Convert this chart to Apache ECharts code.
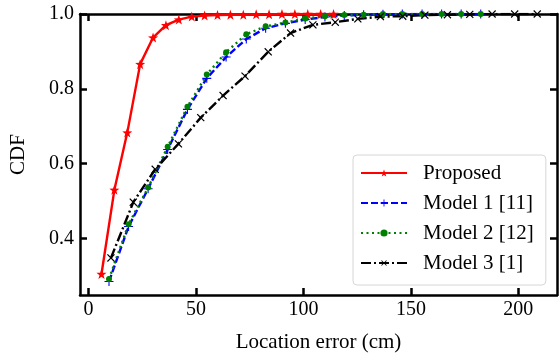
<!DOCTYPE html>
<html>
<head>
<meta charset="utf-8">
<script src="https://cdn.jsdelivr.net/npm/echarts@6/dist/echarts.min.js"></script>
<style>
  html, body { margin: 0; padding: 0; background: #fff; }
  #chart { width: 559px; height: 358px; }
</style>
</head>
<body>
<div id="chart"></div>
<script>
/* ---------- data ---------- */
const xTicks = [0, 50, 100, 150, 200];
const yTicks = [0.4, 0.6, 0.8, 1.0];

const proposedX = [6, 12, 18, 24, 30, 36, 42, 48, 54, 60, 66, 72, 78, 84, 90, 96, 102, 108, 114];
const proposedY = [0.305, 0.53, 0.683, 0.866, 0.937, 0.97, 0.985, 0.993, 0.996, 0.997, 0.998, 0.998, 0.999, 0.999, 1, 1, 1, 1, 1];

const model12X = [9.5, 18.6, 27.7, 36.8, 46, 55, 64, 73.4, 82.4, 91.6, 100.8, 110, 119, 128, 137, 146, 155.2, 164.3, 173.4, 182.5];
const model1Y = [0.285, 0.432, 0.533, 0.638, 0.745, 0.828, 0.885, 0.933, 0.962, 0.975, 0.985, 0.992, 0.996, 0.998, 0.999, 1, 1, 1, 1, 1];
const model2Y = [0.292, 0.438, 0.536, 0.645, 0.752, 0.838, 0.898, 0.946, 0.967, 0.977, 0.988, 0.994, 0.997, 0.998, 1, 1, 1, 1, 1, 1];

const model3X = [10.4, 20.8, 31, 41.8, 52.2, 62.6, 72.8, 83.6, 94, 104.4, 114.8, 125.3, 135.8, 146.2, 156.5, 167, 177.4, 187.8, 198.3, 208.8];
const model3Y = [0.348, 0.497, 0.585, 0.653, 0.723, 0.782, 0.834, 0.899, 0.949, 0.971, 0.978, 0.987, 0.993, 0.994, 0.997, 0.998, 0.999, 1, 1, 1];

const seriesNames = ['Proposed', 'Model 1 [11]', 'Model 2 [12]', 'Model 3 [1]'];

/* ---------- marker shapes ---------- */
const STAR = 'path://M5,0L6.18,3.38L9.76,3.45L6.9,5.62L7.94,9.05L5,7L2.06,9.05L3.1,5.62L0.24,3.45L3.82,3.38Z';
const PLUS = 'path://M4.4,0h1.2v4.4h4.4v1.2h-4.4v4.4h-1.2v-4.4h-4.4v-1.2h4.4z';

const pairs = (xs, ys) => xs.map((x, i) => [x, ys[i]]);
const FONT = 'Liberation Serif';

const chart = echarts.init(document.getElementById('chart'), null, { renderer: 'canvas' });

// frame: axis line + inward ticks on every side
function frameAxis(pos, min, max, ticks, extra) {
  return Object.assign({
    type: 'value',
    position: pos,
    min: min,
    max: max,
    axisLine: { show: true, onZero: false, lineStyle: { color: '#000', width: 2.5 } },
    axisTick: { show: true, inside: true, length: 7, customValues: ticks, lineStyle: { color: '#000', width: 2.5 } },
    axisLabel: { show: false },
    splitLine: { show: false },
  }, extra || {});
}

chart.setOption({
  animation: false,
  grid: { left: 78, right: 2, top: 14, bottom: 60 },
  legend: {
    orient: 'vertical',
    left: 353,
    top: 155,
    padding: [6, 12, 10, 7],
    itemWidth: 46,
    itemHeight: 9,
    itemGap: 6,
    backgroundColor: 'rgba(255,255,255,0.8)',
    borderColor: '#d6d6d6',
    borderWidth: 1,
    borderRadius: 4,
    textStyle: { fontFamily: FONT, fontSize: 21, color: '#000', lineHeight: 24, padding: [0, 0, 0, 11] },
    data: seriesNames,
  },
  xAxis: [
    frameAxis('bottom', -4, 218, xTicks, {
      name: 'Location error (cm)',
      nameLocation: 'middle',
      nameGap: 37,
      nameTextStyle: { fontFamily: FONT, fontSize: 21, color: '#000' },
      axisLabel: { customValues: xTicks, fontFamily: FONT, fontSize: 20, color: '#000', margin: 5 },
    }),
    frameAxis('top', -4, 218, xTicks),
  ],
  yAxis: [
    frameAxis('left', 0.249, 1.0, yTicks, {
      name: 'CDF',
      nameLocation: 'middle',
      nameGap: 51,
      nameRotate: 90,
      nameTextStyle: { fontFamily: FONT, fontSize: 21, color: '#000' },
      axisLabel: {
        customValues: yTicks, fontFamily: FONT, fontSize: 20, color: '#000', margin: 6,
        formatter: (v) => v.toFixed(1),
      },
    }),
    frameAxis('right', 0.249, 1.0, yTicks),
  ],
  series: [
    {
      name: seriesNames[0], type: 'line', data: pairs(proposedX, proposedY),
      symbol: STAR, symbolSize: 10, showAllSymbol: true,
      lineStyle: { color: '#ff0000', width: 2.4 },
      itemStyle: { color: '#ff0000' },
    },
    {
      name: seriesNames[1], type: 'line', data: pairs(model12X, model1Y),
      symbol: PLUS, symbolSize: 9, showAllSymbol: true,
      lineStyle: { color: '#0000ff', width: 2.4, type: [7, 3] },
      itemStyle: { color: '#0000ff' },
    },
    {
      name: seriesNames[2], type: 'line', data: pairs(model12X, model2Y),
      symbol: 'circle', symbolSize: 6, showAllSymbol: true,
      lineStyle: { color: '#008000', width: 2.4, type: [2, 3.5] },
      itemStyle: { color: '#008000' },
    },
    {
      name: seriesNames[3], type: 'line', data: pairs(model3X, model3Y),
      symbol: PLUS, symbolSize: 10, symbolRotate: 45, showAllSymbol: true,
      lineStyle: { color: '#000', width: 2.4, type: [10, 3, 2, 3] },
      itemStyle: { color: '#000' },
    },
  ],
});
</script>
</body>
</html>
